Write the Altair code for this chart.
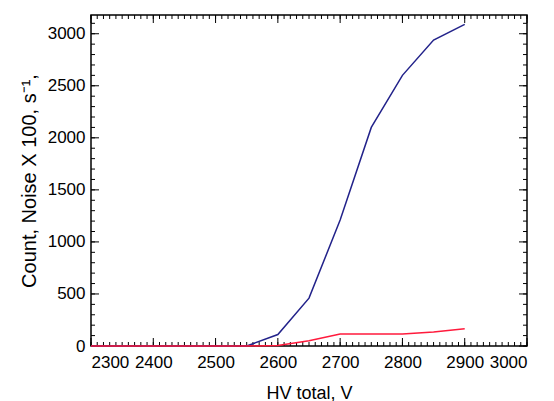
import altair as alt
import pandas as pd

hv = [2300, 2350, 2400, 2450, 2500, 2550, 2600, 2650, 2700, 2750, 2800, 2850, 2900]
count = [0, 0, 0, 0, 0, 0, 110, 460, 1210, 2100, 2600, 2940, 3090]
noise = [0, 0, 0, 0, 0, 0, 5, 50, 115, 115, 115, 135, 165]

x_major = list(range(2300, 3001, 100))
x_minor = list(range(2300, 3001, 10))
y_major = list(range(0, 3001, 500))
y_minor = list(range(0, 3101, 100))

W, H = 436, 331
XD = [2300, 3000]
YD = [0, 3180]
FONT = "Liberation Sans"

df = pd.DataFrame({
    "hv": hv * 2,
    "val": count + noise,
    "series": ["Count"] * len(hv) + ["Noise"] * len(hv),
})

xs = alt.Scale(domain=XD, nice=False, zero=False)
ys = alt.Scale(domain=YD, nice=False, zero=False)

lines = alt.Chart(df).mark_line(strokeWidth=1.5).encode(
    x=alt.X("hv:Q", scale=xs, axis=alt.Axis(
        title="HV total, V", values=x_major, format="d", tickSize=0,
        labelPadding=8, titlePadding=14, titleFontSize=18, grid=False, domain=False)),
    y=alt.Y("val:Q", scale=ys, axis=alt.Axis(
        title="Count, Noise X 100, s⁻¹,", values=y_major, format="d", tickSize=0,
        labelPadding=6, titlePadding=8, titleFontSize=20, grid=False, domain=False)),
    color=alt.Color("series:N", legend=None,
                    scale=alt.Scale(domain=["Count", "Noise"], range=["#22228a", "#ff1a3c"])),
    order=alt.Order("hv:Q"),
)

xmaj = pd.DataFrame({"hv": x_major})
xmin = pd.DataFrame({"hv": x_minor})
ymaj = pd.DataFrame({"val": y_major})
ymin = pd.DataFrame({"val": y_minor})


def xticks(d, L):
    bot = alt.Chart(d).mark_rule(color="black", strokeWidth=1).encode(
        x=alt.X("hv:Q", scale=xs), y=alt.value(H), y2=alt.value(H - L))
    top = alt.Chart(d).mark_rule(color="black", strokeWidth=1).encode(
        x=alt.X("hv:Q", scale=xs), y=alt.value(0), y2=alt.value(L))
    return [bot, top]


def yticks(d, L):
    left = alt.Chart(d).mark_rule(color="black", strokeWidth=1).encode(
        y=alt.Y("val:Q", scale=ys), x=alt.value(0), x2=alt.value(L))
    right = alt.Chart(d).mark_rule(color="black", strokeWidth=1).encode(
        y=alt.Y("val:Q", scale=ys), x=alt.value(W), x2=alt.value(W - L))
    return [left, right]


layers = xticks(xmin, 4) + xticks(xmaj, 8) + yticks(ymin, 4) + yticks(ymaj, 8) + [lines]

chart = alt.layer(*layers).properties(
    width=W, height=H,
    background="white",
    autosize=alt.AutoSizeParams(type="none"),
    padding={"left": 83, "top": 7, "right": 19, "bottom": 55},
).configure_view(
    stroke="black", strokeWidth=1.5
).configure_axis(
    labelFont=FONT, titleFont=FONT, labelFontSize=17, titleFontSize=16,
    labelColor="black", titleColor="black", titleFontWeight="normal",
)

chart.save("out.html", embed_options={"renderer": "svg", "actions": False})
